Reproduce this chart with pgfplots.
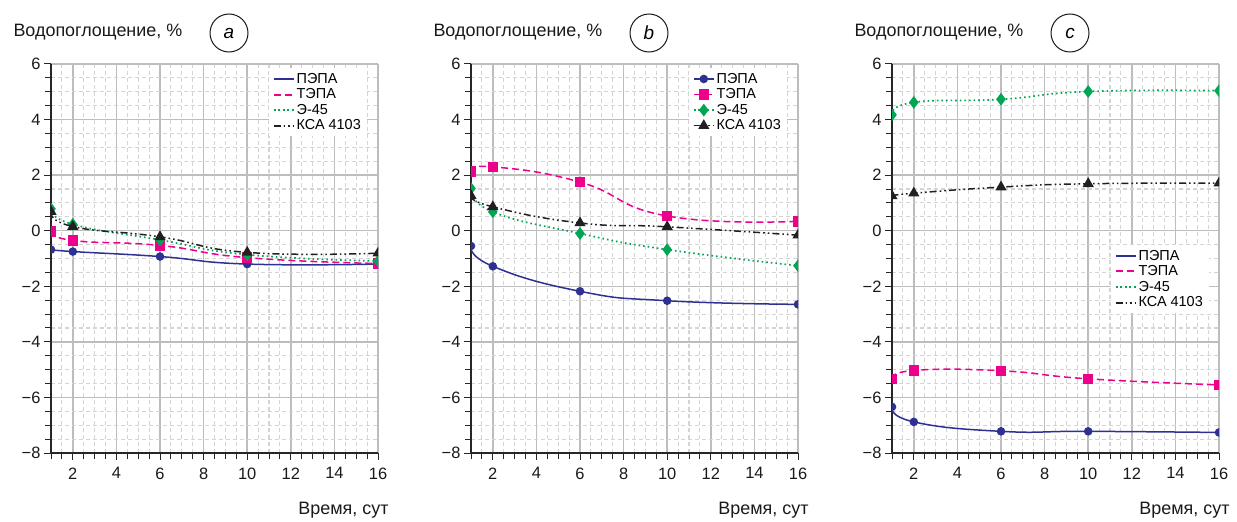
\documentclass[border=0pt]{standalone}
\usepackage{fontspec}
\setmainfont{Liberation Sans}
\usepackage{pgfplots}
\usepackage{pgfplotstable}
\pgfplotsset{compat=1.18}

\definecolor{cPEPA}{HTML}{2E3192}
\definecolor{cTEPA}{HTML}{EC008C}
\definecolor{cE45}{HTML}{00A651}
\definecolor{cKSA}{HTML}{231F20}
\definecolor{gmaj}{HTML}{BDBDBD}
\definecolor{gmin}{HTML}{D4D4D4}

% panel a
\pgfplotstableread{
x pepa tepa e45 ksa
1 -0.68 -0.02 0.79 0.69
2 -0.75 -0.35 0.23 0.15
6 -0.93 -0.53 -0.33 -0.22
10 -1.20 -0.97 -0.86 -0.78
16 -1.20 -1.18 -1.09 -0.81
}\dataA
% panel b
\pgfplotstableread{
x pepa tepa e45 ksa
1 -0.55 2.13 1.52 1.26
2 -1.28 2.30 0.68 0.86
6 -2.18 1.75 -0.10 0.28
10 -2.52 0.53 -0.68 0.14
16 -2.65 0.34 -1.26 -0.16
}\dataB
% panel c
\pgfplotstableread{
x pepa tepa e45 ksa
1 -6.34 -5.34 4.17 1.25
2 -6.88 -5.03 4.62 1.35
6 -7.22 -5.04 4.73 1.57
10 -7.22 -5.33 5.01 1.69
16 -7.26 -5.55 5.04 1.71
}\dataC

\pgfplotsset{
  panel/.style={
    scale only axis, width=327bp, height=389bp,
    xmin=1, xmax=16, ymin=-8, ymax=6,
    axis lines=left, axis line style={-, line width=1.2bp, black!85},
    xtick={2,4,...,16}, xticklabels={2,4,6,8,10,12,14,16},
    ytick={-8,-6,...,6}, yticklabels={−8,−6,−4,−2,0,2,4,6},
    minor xtick={1,1.5,2.5,3,3.5,4.5,5,5.5,6.5,7,7.5,8.5,9,9.5,10.5,11,11.5,12.5,13,13.5,14.5,15,15.5},
    minor ytick={-7.5,-7,-6.5,-5.5,-5,-4.5,-3.5,-3,-2.5,-1.5,-1,-0.5,0.5,1,1.5,2.5,3,3.5,4.5,5,5.5},
    tick align=outside, major tick length=7bp, minor tick length=6bp,
    tick style={black!85, line width=1bp},
    grid=both,
    minor grid style={gmin, line width=1.1bp, dash pattern=on 4bp off 3bp},
    major grid style={gmaj, line width=1.5bp, solid},
    ticklabel style={font=\fontsize{16.5}{16.5}\selectfont, text=black!90},
    xticklabel style={yshift=-4bp},
    clip marker paths=true,
    legend cell align=left,
    legend style={draw=none, fill=white, font=\fontsize{14.5}{17.5}\selectfont,
      inner xsep=4bp, inner ysep=3bp, row sep=0bp},
  },
  lineonly/.style={legend image code/.code={\draw[##1, mark=none, line width=2bp] plot coordinates {(0bp,0bp) (20bp,0bp)};}},
  withmark/.style={legend image code/.code={\draw[mark repeat=2, mark phase=2, ##1] plot coordinates {(0bp,0bp) (10bp,0bp) (20bp,0bp)};}},
  sm/.style={smooth, tension=0.85},
  pepa/.style={cPEPA, line width=1.5bp, solid, sm, mark=*, mark size=3.5bp, mark options={solid}},
  tepa/.style={cTEPA, line width=1.5bp, dash pattern=on 7bp off 4bp, sm, mark=square*, mark size=4.5bp, mark options={solid}},
  e45/.style={cE45, line width=1.7bp, dash pattern=on 1.6bp off 3bp, sm, mark=diamond*, mark size=5bp, mark options={solid}},
  ksa/.style={cKSA, line width=1.5bp, dash pattern=on 7bp off 3bp on 1.6bp off 3bp on 1.6bp off 3bp, sm, mark=triangle*, mark size=5bp, mark options={solid}},
}

\begin{document}
\begin{tikzpicture}
\path[use as bounding box] (0,0) rectangle (1237bp,-522bp);

% ---- a ----
\begin{axis}[panel, lineonly, at={(51bp,-453bp)}, anchor=south west,
  legend style={at={(1,1)}, anchor=north east, xshift=-11bp, yshift=-4bp}]
\addplot[pepa] table[x=x, y=pepa] {\dataA};
\addplot[tepa] table[x=x, y=tepa] {\dataA};
\addplot[e45] table[x=x, y=e45] {\dataA};
\addplot[ksa] table[x=x, y=ksa] {\dataA};
\legend{ПЭПА, ТЭПА, Э-45, КСА 4103}
\end{axis}

% ---- b ----
\begin{axis}[panel, withmark, at={(471bp,-453bp)}, anchor=south west,
  legend style={at={(1,1)}, anchor=north east, xshift=-11bp, yshift=-4bp}]
\addplot[pepa] table[x=x, y=pepa] {\dataB};
\addplot[tepa] table[x=x, y=tepa] {\dataB};
\addplot[e45] table[x=x, y=e45] {\dataB};
\addplot[ksa] table[x=x, y=ksa] {\dataB};
\legend{ПЭПА, ТЭПА, Э-45, КСА 4103}
\end{axis}

% ---- c ----
\begin{axis}[panel, lineonly, at={(892bp,-453bp)}, anchor=south west,
  legend style={at={(1,0.535)}, anchor=north east, xshift=-10bp}]
\addplot[pepa] table[x=x, y=pepa] {\dataC};
\addplot[tepa] table[x=x, y=tepa] {\dataC};
\addplot[e45] table[x=x, y=e45] {\dataC};
\addplot[ksa] table[x=x, y=ksa] {\dataC};
\legend{ПЭПА, ТЭПА, Э-45, КСА 4103}
\end{axis}

% labels
\foreach \dx/\lt in {0/a, 420/b, 841/c} {
  \node[anchor=west, font=\fontsize{18}{18}\selectfont, text=black!90] at (\dx bp+10bp,-32bp) {Водопоглощение, \%};
  \node[circle, draw=black!90, line width=1bp, minimum size=38bp, inner sep=0pt,
    font=\fontsize{19}{19}\selectfont\itshape] at (\dx bp+229bp,-33bp) {\lt};
  \node[anchor=east, font=\fontsize{18}{18}\selectfont, text=black!90] at (\dx bp+392bp,-510bp) {Время, сут};
}
\end{tikzpicture}
\end{document}
